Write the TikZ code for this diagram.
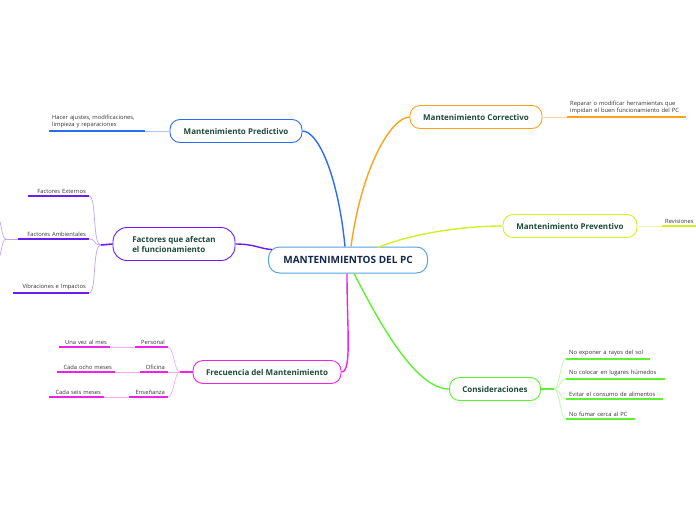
\documentclass[tikz,border=0pt]{standalone}
\usepackage{fontspec}
\setmainfont{Open Sans}
\usepackage{xcolor}
\usepackage{tikz}
\usetikzlibrary{calc,positioning}

\definecolor{rootblue}{HTML}{5AA2DC}
\definecolor{roottext}{HTML}{14284B}
\definecolor{topictext}{HTML}{1C4A3B}
\definecolor{leaftext}{HTML}{333333}
\definecolor{predblue}{HTML}{2B6CF6}
\definecolor{predlight}{HTML}{AFC8FB}
\definecolor{corrorange}{HTML}{FFA01E}
\definecolor{corrlight}{HTML}{FFD49C}
\definecolor{prevyellow}{HTML}{D2F024}
\definecolor{prevlight}{HTML}{EEF9A6}
\definecolor{consgreen}{HTML}{5EF032}
\definecolor{conslight}{HTML}{B9F9A2}
\definecolor{frecmagenta}{HTML}{EE22E8}
\definecolor{freclight}{HTML}{F7AAF4}
\definecolor{facpurple}{HTML}{6A1CF6}
\definecolor{faclight}{HTML}{BFA2FB}

\begin{document}
\begin{tikzpicture}[
			x=1pt, y=-1pt,
			root/.style={draw=rootblue, fill=white, line width=1pt, rounded corners=11pt, minimum width=159pt, minimum height=26pt, text=roottext, font=\bfseries\fontsize{10}{12}\selectfont},
			topic/.style={draw, fill=white, line width=0.9pt, rounded corners=10pt, minimum height=23pt, text=topictext, font=\bfseries\fontsize{8}{10}\selectfont},
			leaf/.style={inner xsep=3pt, inner ysep=2.5pt, text=leaftext, font=\fontsize{5.8}{7.6}\selectfont},
			leafL/.style={leaf, anchor=south west, align=left},
			leafR/.style={leaf, anchor=south east, align=right},
			branch/.style={line width=1.4pt},
			twig/.style={line width=0.7pt},
			under/.style={line width=1.6pt}
			]
			\useasboundingbox (0,0) rectangle (696,520);
			
			\node[root] (pc) at (348,260) {MANTENIMIENTOS DEL PC};
			
			\node[topic, draw=predblue, minimum width=132pt] (pred) at (236,131) {Mantenimiento Predictivo};
			\node[topic, draw=corrorange, minimum width=132pt] (corr) at (476,117) {Mantenimiento Correctivo};
			\node[topic, draw=prevyellow, minimum width=134pt] (prev) at (570,226) {Mantenimiento Preventivo};
			\node[topic, draw=consgreen, minimum width=91pt] (cons) at (495,389) {Consideraciones};
			\node[topic, draw=frecmagenta, minimum width=148pt] (frec) at (267,372) {Frecuencia del Mantenimiento};
			\node[topic, draw=facpurple, minimum width=122pt, minimum height=33pt, rounded corners=14pt, align=left] (fac) at (174,244) {Factores que afectan\\el funcionamiento};
			
			% branches from the centre
			\draw[branch, predblue] (pred.east) .. controls (318,131) and (338,175) .. ($(pc.north)+(-3,0)$);
			\draw[branch, corrorange] (corr.west) .. controls (392,117) and (362,165) .. ($(pc.north)+(3,0)$);
			\draw[branch, prevyellow] (prev.west) .. controls (455,226) and (405,236) .. ($(pc.north)+(30,1)$);
			\draw[branch, consgreen] (cons.west) .. controls (415,389) and (378,320) .. ($(pc.south)+(6,0)$);
			\draw[branch, frecmagenta] (frec.east) .. controls (352,372) and (347,330) .. ($(pc.south)+(-1,0)$);
			\draw[branch, facpurple] (fac.east) .. controls (255,244) and (260,249) .. ($(pc.north west)+(4,3)$);
			
			% Predictivo
			\node[leafL, text width=90pt] (ajustes) at (49,131) {Hacer ajustes, modificaciones,\\limpieza y reparaciones};
			\draw[under, predblue] (ajustes.south west) -- (ajustes.south east);
			\draw[twig, predlight] (pred.west) -- (ajustes.south east);
			
			% Correctivo
			\node[leafL, text width=113pt] (reparar) at (567,117) {Reparar o modificar herramientas que\\impidan el buen funcionamiento del PC};
			\draw[under, corrorange] (reparar.south west) -- (reparar.south east);
			\draw[twig, corrlight] (corr.east) -- (reparar.south west);
			
			% Preventivo
			\node[leafL, text width=42pt] (revis) at (662,226) {Revisiones};
			\draw[under, prevyellow] (revis.south west) -- (revis.south east);
			\draw[twig, prevlight] (prev.east) -- (revis.south west);
			
			% Consideraciones
			\node[leafL, text width=78pt] (sol) at (566,359) {No exponer a rayos del sol};
			\node[leafL, text width=93pt] (humedos) at (566,379) {No colocar en lugares húmedos};
			\node[leafL, text width=91pt] (alimentos) at (566,399) {Evitar el consumo de alimentos};
			\node[leafL, text width=63pt] (fumar) at (566,419) {No fumar cerca al PC};
			\coordinate (consfan) at (554,389);
			\draw[under, consgreen] (cons.east) -- (consfan);
			\foreach \n in {sol, humedos, alimentos, fumar} {
				\draw[under, consgreen] (\n.south west) -- (\n.south east);
				\draw[twig, conslight] (consfan) .. controls +(6,0) and ($(\n.south west)+(-6,0)$) .. (\n.south west);
			}
			
			% Factores
			\node[leafR, text width=55pt] (externos) at (89,196) {Factores Externos};
			\node[leafR, text width=65pt] (ambient) at (89,239) {Factores Ambientales};
			\node[leafR, text width=70pt] (vibra) at (89,293) {Vibraciones e Impactos};
			\coordinate (facfan) at (101,245);
			\draw[under, facpurple] (fac.west) -- (facfan);
			\foreach \n in {externos, ambient, vibra} {
				\draw[under, facpurple] (\n.south west) -- (\n.south east);
				\draw[twig, faclight] (facfan) .. controls +(-9,0) and ($(\n.south east)+(8,0)$) .. (\n.south east);
			}
			\coordinate (ambfan) at (6,239);
			\coordinate (ambup) at (-4,214);
			\coordinate (ambdown) at (-4,263);
			\draw[twig, faclight] (ambient.south west) -- (ambfan);
			\draw[twig, faclight] (ambfan) .. controls (1,239) and (2,218) .. (ambup);
			\draw[twig, faclight] (ambfan) .. controls (1,239) and (2,259) .. (ambdown);
			
			% Frecuencia
			\node[leafR, text width=27pt] (personal) at (168,347) {Personal};
			\node[leafR, text width=22pt] (oficina) at (168,372) {Oficina};
			\node[leafR, text width=33pt] (ensen) at (168,397) {Enseñanza};
			\node[leafR, text width=45pt] (unavez) at (110,347) {Una vez al mes};
			\node[leafR, text width=52pt] (ocho) at (115,372) {Cada ocho meses};
			\node[leafR, text width=49pt] (seis) at (104,397) {Cada seis meses};
			\coordinate (frecfan) at (180,372);
			\draw[under, frecmagenta] (frec.west) -- (frecfan);
			\foreach \n/\m in {personal/unavez, oficina/ocho, ensen/seis} {
				\draw[under, frecmagenta] (\n.south west) -- (\n.south east);
				\draw[under, frecmagenta] (\m.south west) -- (\m.south east);
				\draw[twig, freclight] (frecfan) .. controls +(-6,0) and ($(\n.south east)+(6,0)$) .. (\n.south east);
				\draw[twig, freclight] (\n.south west) -- (\m.south east);
			}
		\end{tikzpicture}
\end{document}
